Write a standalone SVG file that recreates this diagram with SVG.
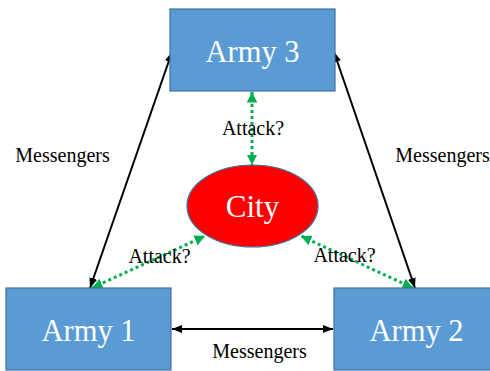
<svg xmlns="http://www.w3.org/2000/svg" width="490" height="371" viewBox="0 0 490 371">
  <style>
    .army { fill: #5B9BD5; stroke: #41719C; stroke-width: 1.2; }
    .city { fill: #FF0000; stroke: #41719C; stroke-width: 1.2; }
    .big { font-family: "Liberation Serif", "Times New Roman", serif; fill: #FFFFFF; text-anchor: middle; }
    .lbl { font-family: "Liberation Serif", "Times New Roman", serif; font-size: 20px; fill: #000000; text-anchor: middle; }
    .msg { stroke: #000000; stroke-width: 2; fill: none; marker-start: url(#blackHead); marker-end: url(#blackHead); }
    .atk { stroke: #00B050; stroke-width: 3; stroke-dasharray: 3 3; fill: none; marker-start: url(#greenHead); marker-end: url(#greenHead); }
  </style>
  <defs>
    <marker id="blackHead" viewBox="0 0 10 10" refX="10" refY="5" markerWidth="5" markerHeight="5" orient="auto-start-reverse" markerUnits="strokeWidth">
      <path d="M0,1 L10,5 L0,9 Z" fill="#000000"/>
    </marker>
    <marker id="greenHead" viewBox="0 0 10 10" refX="10" refY="5" markerWidth="3.5" markerHeight="3.5" orient="auto-start-reverse" markerUnits="strokeWidth">
      <path d="M0,0 L10,5 L0,10 Z" fill="#00B050"/>
    </marker>
  </defs>

  <g id="connectors">
    <line class="msg" x1="172" y1="52" x2="90" y2="288"/>
    <line class="msg" x1="334" y1="52" x2="415" y2="288"/>
    <line class="msg" x1="172" y1="329" x2="333" y2="329"/>
    <line class="atk" x1="252" y1="92" x2="252" y2="165"/>
    <line class="atk" x1="92" y1="288" x2="205" y2="236"/>
    <line class="atk" x1="413" y1="288" x2="301" y2="236"/>
  </g>

  <g id="army3">
    <rect class="army" x="170" y="9" width="165" height="82"/>
    <text class="big" x="252.5" y="62" font-size="30.5">Army 3</text>
  </g>
  <g id="army1">
    <rect class="army" x="6" y="288" width="165" height="82"/>
    <text class="big" x="88.5" y="341" font-size="30.5">Army 1</text>
  </g>
  <g id="army2">
    <rect class="army" x="334" y="288" width="165" height="82"/>
    <text class="big" x="416.5" y="341" font-size="30.5">Army 2</text>
  </g>
  <g id="city">
    <ellipse class="city" cx="252.5" cy="206" rx="65.5" ry="41"/>
    <text class="big" x="252.5" y="217" font-size="31">City</text>
  </g>

  <g id="labels">
    <text class="lbl" x="253" y="135">Attack?</text>
    <text class="lbl" x="159.5" y="263">Attack?</text>
    <text class="lbl" x="344.5" y="262">Attack?</text>
    <text class="lbl" x="62.5" y="162">Messengers</text>
    <text class="lbl" x="442.5" y="162">Messengers</text>
    <text class="lbl" x="259.5" y="358">Messengers</text>
  </g>
</svg>
